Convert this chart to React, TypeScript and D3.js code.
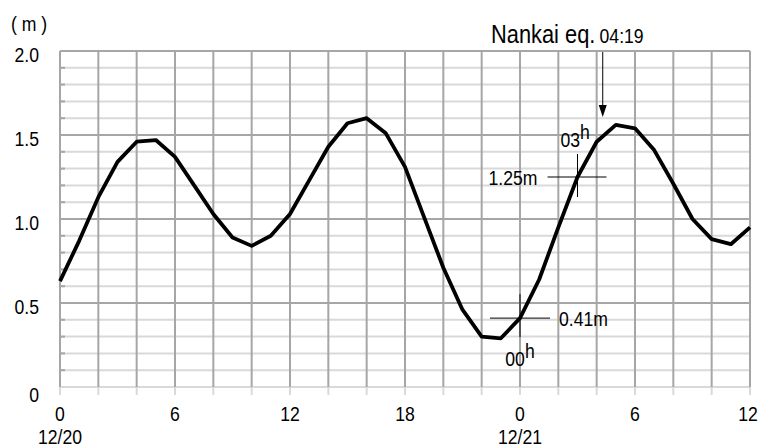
import React from 'react';
import * as d3 from 'd3';

// hourly tide level (m), 12/20 00h -> 12/21 12h
const hours = d3.range(0, 37);
const level = [
  0.63, 0.87, 1.13, 1.34, 1.46, 1.47, 1.37, 1.2, 1.03, 0.89, 0.84, 0.9,
  1.03, 1.23, 1.43, 1.57, 1.6, 1.51, 1.31, 1.01, 0.71, 0.46, 0.3, 0.29,
  0.41, 0.64, 0.95, 1.25, 1.46, 1.56, 1.54, 1.41, 1.21, 1.0, 0.88, 0.85, 0.95,
];
const xTicks = [0, 6, 12, 18, 24, 30, 36];
const xTickLabels = ['0', '6', '12', '18', '0', '6', '12'];
const dateLabels = [{ h: 0, label: '12/20' }, { h: 24, label: '12/21' }];
const yTicks = [0, 0.5, 1, 1.5, 2];
const yTickLabels = ['0', '0.5', '1.0', '1.5', '2.0'];
const quakeHour = 28 + 19 / 60;

const FONT = '"Liberation Sans", Arial, sans-serif';
const MAJOR = '#a6a6a6';
const MINOR = '#d9d9d9';
const SQUEEZE = 0.84; // narrow face look

// text squeezed horizontally around its anchor point
const NText = ({ x, y, size = 21, anchor = 'start', base = 'auto', children }: any) => (
  <text
    transform={`translate(${x},${y}) scale(${SQUEEZE},1)`}
    fontSize={size}
    textAnchor={anchor}
    dominantBaseline={base}
  >
    {children}
  </text>
);

const App = () => {
  const width = 758;
  const height = 447;
  const x = d3.scaleLinear().domain([0, 36]).range([60, 750]);
  const y = d3.scaleLinear().domain([0, 2]).range([387, 51]);

  const line = d3
    .line<number>()
    .x((_, i) => x(hours[i]))
    .y((d) => y(d));

  const minor = d3.range(0, 2.01, 0.1).filter((v) => Math.abs(v * 2 - Math.round(v * 2)) > 0.01 || v < 0.01);
  const verticals = d3.range(0, 37, 2);

  const low = { x: x(24), y: y(0.41) };
  const high = { x: x(27), y: y(1.25) };
  const qx = x(quakeHour);

  return (
    <svg width={width} height={height} style={{ position: 'absolute', left: 0, top: 0 }} fontFamily={FONT}>
      {/* minor horizontal grid */}
      {minor.map((v) => (
        <g key={'mn' + v}>
          <line x1={x(0)} x2={x(36)} y1={y(v)} y2={y(v)} stroke={MINOR} strokeWidth={2} />
          {v > 0.01 && <line x1={x(0)} x2={x(0) + 5} y1={y(v)} y2={y(v)} stroke={MAJOR} strokeWidth={2} />}
        </g>
      ))}
      {/* vertical grid, with light tick stubs below the axis */}
      {verticals.map((h) => (
        <g key={'v' + h}>
          <line x1={x(h)} x2={x(h)} y1={y(0)} y2={y(0) + 8} stroke={MINOR} strokeWidth={2} />
          <line x1={x(h)} x2={x(h)} y1={y(2)} y2={y(0)} stroke={MAJOR} strokeWidth={2} />
        </g>
      ))}
      {/* major horizontal grid */}
      {yTicks.filter((v) => v > 0).map((v) => (
        <line key={'mj' + v} x1={x(0)} x2={x(36)} y1={y(v)} y2={y(v)} stroke={MAJOR} strokeWidth={2} />
      ))}

      {/* tide curve */}
      <path d={line(level) || ''} fill="none" stroke="#000" strokeWidth={3.8} strokeLinejoin="round" />

      {/* y axis labels */}
      <NText x={29} y={23} anchor="middle" base="central">( m )</NText>
      {yTicks.map((v, i) => (
        <NText key={'yl' + v} x={39} y={y(v) + (v === 0 ? 7 : 3)} anchor="end" base="central">
          {yTickLabels[i]}
        </NText>
      ))}
      {/* x axis labels */}
      {xTicks.map((h, i) => (
        <NText key={'xl' + i} x={h === 36 ? x(h) - 2 : x(h)} y={413} anchor="middle" base="central">
          {xTickLabels[i]}
        </NText>
      ))}
      {dateLabels.map((d) => (
        <NText key={d.label} x={x(d.h)} y={436} anchor="middle" base="central">
          {d.label}
        </NText>
      ))}

      {/* low water mark at 00h */}
      <line x1={low.x - 30} x2={low.x + 30} y1={low.y} y2={low.y} stroke="#000" strokeWidth={1} />
      <line x1={low.x} x2={low.x} y1={low.y - 24} y2={low.y + 19} stroke="#000" strokeWidth={1} />
      <NText x={low.x + 39} y={low.y} base="central">0.41m</NText>
      <NText x={low.x} y={low.y + 48} anchor="middle">
        00<tspan dy={-8}>h</tspan>
      </NText>

      {/* level at 03h */}
      <line x1={high.x - 30} x2={high.x + 29} y1={high.y} y2={high.y} stroke="#000" strokeWidth={1} />
      <line x1={high.x} x2={high.x} y1={high.y - 23} y2={high.y + 20} stroke="#000" strokeWidth={1} />
      <NText x={high.x - 40} y={high.y} anchor="end" base="central">1.25m</NText>
      <NText x={high.x - 17} y={high.y - 30}>
        03<tspan dy={-8}>h</tspan>
      </NText>

      {/* earthquake arrow */}
      <line x1={qx} x2={qx} y1={52} y2={106} stroke="#000" strokeWidth={1} />
      <path d={`M${qx - 4},${105} L${qx + 4},${105} L${qx},${117} Z`} fill="#000" />
      <NText x={491} y={43} size={26}>
        Nankai eq.<tspan fontSize={21} dx={5}>04:19</tspan>
      </NText>
    </svg>
  );
};

export default App;
